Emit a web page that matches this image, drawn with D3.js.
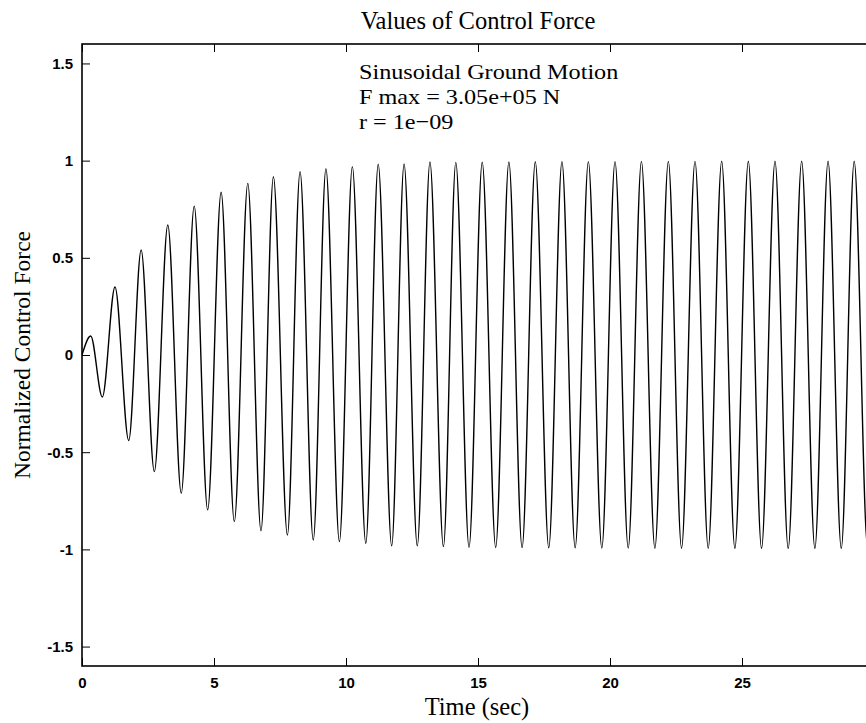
<!DOCTYPE html>
<html>
<head>
<meta charset="utf-8">
<script src="https://d3js.org/d3.v7.min.js"></script>
<style>
  html, body { margin: 0; padding: 0; background: #fff; }
  svg { display: block; }
</style>
</head>
<body>
<script>
// ---- data (extrema of the normalized control force) ----
const timeSec = [
  0, 0.33, 0.77, 1.25, 1.77, 2.24, 2.74, 3.25, 3.76, 4.25, 4.76,
  5.27, 5.77, 6.28, 6.78, 7.25, 7.78, 8.26, 8.76, 9.24, 9.75,
  10.24, 10.75, 11.22, 11.73, 12.20, 12.70, 13.18, 13.69, 14.16, 14.66,
  15.16, 15.67, 16.17, 16.67, 17.17, 17.68, 18.18, 18.68, 19.18, 19.69,
  20.19, 20.69, 21.19, 21.70, 22.21, 22.71, 23.22, 23.72, 24.23, 24.73,
  25.24, 25.74, 26.25, 26.75, 27.26, 27.76, 28.26, 28.76, 29.25, 29.76, 30
];
const controlForce = [
  0, 0.098, -0.216, 0.35, -0.44, 0.54, -0.60, 0.669, -0.711, 0.766, -0.797,
  0.837, -0.857, 0.883, -0.904, 0.917, -0.926, 0.943, -0.952, 0.958, -0.960,
  0.969, -0.969, 0.981, -0.982, 0.983, -0.982, 0.993, -0.986, 0.991, -0.989,
  0.992, -0.990, 0.993, -0.991, 0.994, -0.992, 0.994, -0.992, 0.995, -0.993,
  0.995, -0.993, 0.996, -0.994, 0.996, -0.994, 0.996, -0.994, 0.997, -0.995,
  0.997, -0.995, 0.997, -0.995, 0.997, -0.995, 0.997, -0.995, 0.997, -0.995, -0.70
];
const xTicks = [0, 5, 10, 15, 20, 25, 30];
const xTickLabels = ["0", "5", "10", "15", "20", "25", ""]; // 30 lies beyond the cropped edge
const yTicks = [-1.5, -1, -0.5, 0, 0.5, 1, 1.5];
const yTickLabels = ["-1.5", "-1", "-0.5", "0", "0.5", "1", "1.5"];
const xDomain = [0, 30];
const yDomain = [-1.6, 1.6];
const titleText = "Values of Control Force";
const xLabelText = "Time (sec)";
const yLabelText = "Normalized Control Force";
const noteLines = ["Sinusoidal Ground Motion", "F max = 3.05e+05 N", "r = 1e\u221209"];

// ---- layout ----
const W = 866, H = 723;
const L = 82, R = 874, T = 44, B = 666;

const svg = d3.select("body").append("svg")
  .attr("width", W).attr("height", H)
  .attr("viewBox", `0 0 ${W} ${H}`);

const x = d3.scaleLinear().domain(xDomain).range([L, R]);
const y = d3.scaleLinear().domain(yDomain).range([B, T]);

const serif = "'Liberation Serif', 'Times New Roman', serif";
const sans = "'Liberation Sans', Arial, Helvetica, sans-serif";

// data line
const pts = timeSec.map((t, i) => [t, controlForce[i]]);
const line = d3.line()
  .x(d => x(d[0]))
  .y(d => y(d[1]))
  .curve(d3.curveMonotoneX);

svg.append("clipPath").attr("id", "clip")
  .append("rect").attr("x", L).attr("y", T).attr("width", R - L).attr("height", B - T);

svg.append("path")
  .datum(pts)
  .attr("clip-path", "url(#clip)")
  .attr("d", line)
  .attr("fill", "none")
  .attr("stroke", "#000")
  .attr("stroke-width", 1.4)
  .attr("stroke-linejoin", "round");

// axes (MATLAB style: inward ticks on all four sides)
const tickLen = 8;
const axBottom = d3.axisBottom(x).tickValues(xTicks).tickSize(-tickLen).tickPadding(11)
  .tickFormat((d, i) => xTickLabels[i]);
const axTop = d3.axisTop(x).tickValues(xTicks).tickSize(-tickLen).tickFormat("");
const axLeft = d3.axisLeft(y).tickValues(yTicks).tickSize(-tickLen).tickPadding(9)
  .tickFormat((d, i) => yTickLabels[i]);
const axRight = d3.axisRight(y).tickValues(yTicks).tickSize(-tickLen).tickFormat("");

function styleAxis(g) {
  g.select(".domain").remove();
  g.selectAll(".tick line").attr("stroke", "#000").attr("stroke-width", 1);
  g.selectAll(".tick text")
    .attr("fill", "#000")
    .style("font-family", sans)
    .style("font-weight", "bold")
    .style("font-size", "15px");
}

svg.append("g").attr("transform", `translate(0,${B})`).call(axBottom).call(styleAxis);
svg.append("g").attr("transform", `translate(0,${T})`).call(axTop).call(styleAxis);
svg.append("g").attr("transform", `translate(${L},0)`).call(axLeft).call(styleAxis);
svg.append("g").attr("transform", `translate(${R},0)`).call(axRight).call(styleAxis);

// frame
svg.append("rect")
  .attr("x", L).attr("y", T).attr("width", R - L).attr("height", B - T)
  .attr("fill", "none").attr("stroke", "#000").attr("stroke-width", 1.6);

// title
svg.append("text")
  .attr("x", 478).attr("y", 29)
  .attr("text-anchor", "middle")
  .style("font-family", serif).style("font-size", "24.5px")
  .text(titleText);

// x label
svg.append("text")
  .attr("x", 477).attr("y", 715)
  .attr("text-anchor", "middle")
  .style("font-family", serif).style("font-size", "24.5px")
  .text(xLabelText);

// y label
svg.append("text")
  .attr("transform", `translate(30,${(T + B) / 2}) rotate(-90)`)
  .attr("text-anchor", "middle")
  .style("font-family", serif).style("font-size", "23.5px")
  .text(yLabelText);

// annotation (slightly wide glyphs, as in the reference)
svg.append("g").selectAll("text")
  .data(noteLines)
  .join("text")
  .attr("transform", (d, i) => `translate(359,${79 + i * 25}) scale(1.1,1)`)
  .style("font-family", serif).style("font-size", "22px")
  .text(d => d);
</script>
</body>
</html>
